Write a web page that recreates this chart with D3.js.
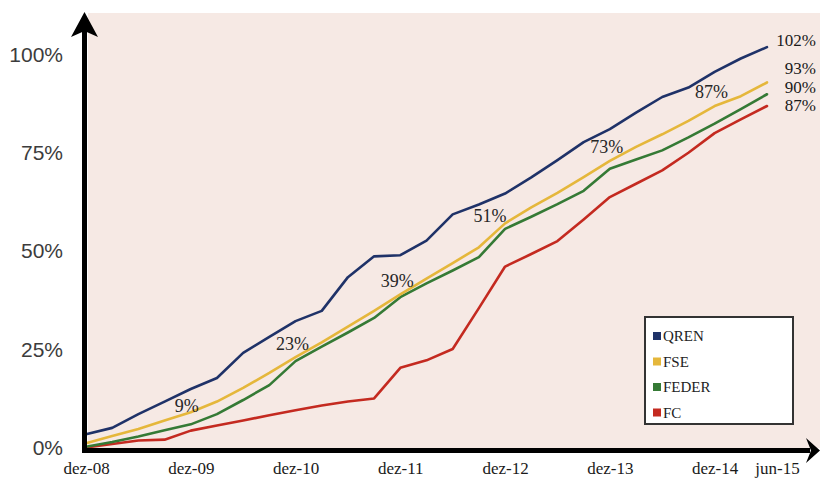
<!DOCTYPE html>
<html>
<head>
<meta charset="utf-8">
<script src="https://cdn.jsdelivr.net/npm/d3@7/dist/d3.min.js"></script>
<style>
  html, body { margin: 0; padding: 0; background: #ffffff; }
  svg { display: block; }
</style>
</head>
<body>
<svg id="chart" width="820" height="479"></svg>
<script>
// Quarterly reporting dates
const quarters = [
  "dez-08", "mar-09", "jun-09", "set-09",
  "dez-09", "mar-10", "jun-10", "set-10",
  "dez-10", "mar-11", "jun-11", "set-11",
  "dez-11", "mar-12", "jun-12", "set-12",
  "dez-12", "mar-13", "jun-13", "set-13",
  "dez-13", "mar-14", "jun-14", "set-14",
  "dez-14", "mar-15", "jun-15"
];

// Execution rate (%) per fund
const qren  = [3.4, 5.0, 8.5, 11.7, 14.9, 17.7, 24.1, 28.2, 32.2, 34.8, 43.4, 48.7, 49.0, 52.7, 59.4, 61.9, 64.7, 68.8, 73.2, 77.8, 81.1, 85.3, 89.3, 91.7, 95.7, 99.1, 102];
const fse   = [1.1, 2.9, 4.7, 6.9, 9, 11.7, 15.2, 19.0, 23, 26.8, 30.8, 34.8, 39, 43.0, 47.0, 51, 57.1, 61.2, 64.9, 68.9, 73, 76.6, 79.8, 83.2, 87, 89.5, 93];
const feder = [0.2, 1.4, 2.8, 4.4, 5.9, 8.5, 12.1, 15.9, 22.0, 25.7, 29.3, 33.0, 38.3, 41.8, 45.1, 48.5, 55.7, 58.8, 62.0, 65.4, 71.0, 73.4, 75.7, 79.0, 82.5, 86.2, 90];
const fc    = [0, 0.9, 1.8, 2.0, 4.3, 5.6, 6.9, 8.2, 9.5, 10.7, 11.7, 12.5, 20.3, 22.2, 25.1, 35.5, 46.1, 49.3, 52.6, 58.1, 63.8, 67.2, 70.6, 75.1, 80.1, 83.6, 87];

const seriesNames = ["QREN", "FSE", "FEDER", "FC"];

// Axis tick labels
const xTickLabels = ["dez-08", "dez-09", "dez-10", "dez-11", "dez-12", "dez-13", "dez-14", "jun-15"];
const yTickValues = [0, 25, 50, 75, 100];

// Milestones written along the FSE line
const markDates  = ["dez-09", "dez-10", "dez-11", "set-12", "dez-13", "dez-14"];
const markValues = [9, 23, 39, 51, 73, 87];

// ---- drawing ----
const colors = { QREN: "#1f3268", FSE: "#e5b73b", FEDER: "#357a35", FC: "#c42a20" };
const valuesByName = { QREN: qren, FSE: fse, FEDER: feder, FC: fc };

const svg = d3.select("#chart");
const serif = "'Liberation Serif', 'Times New Roman', serif";
const sans = "'Liberation Sans', Arial, sans-serif";

const x = d3.scalePoint().domain(quarters).range([86, 767]);
const y = d3.scaleLinear().domain([0, 100]).range([447.5, 55]);

// plot area background
svg.append("rect")
  .attr("x", 88).attr("y", 13)
  .attr("width", 820 - 88).attr("height", 448 - 13)
  .attr("fill", "#f6e9e4");

// series lines
const line = d3.line()
  .x((d, i) => x(quarters[i]))
  .y(d => y(d));

const drawOrder = ["FC", "FEDER", "FSE", "QREN"];
drawOrder.forEach(name => {
  svg.append("path")
    .datum(valuesByName[name])
    .attr("d", line)
    .attr("fill", "none")
    .attr("stroke", colors[name])
    .attr("stroke-width", 2.6)
    .attr("stroke-linejoin", "round")
    .attr("stroke-linecap", "round");
});

// milestone labels, a few nudged to sit clear of the lines
const markNudge = { "dez-09": [-1, 8], "set-12": [14, -18] };
svg.append("g").selectAll("text")
  .data(markDates.map((d, i) => ({ date: d, value: markValues[i] })))
  .join("text")
  .attr("x", d => x(d.date) - 3 + (markNudge[d.date] ? markNudge[d.date][0] : 0))
  .attr("y", d => y(d.value) - 14 + (markNudge[d.date] ? markNudge[d.date][1] : 0))
  .attr("dy", "0.35em")
  .attr("text-anchor", "middle")
  .attr("font-family", serif)
  .attr("font-size", 18)
  .attr("fill", "#262626")
  .text(d => d.value + "%");

// end-of-line values
const endShift = { QREN: -7, FSE: -14, FEDER: -7, FC: -1 };
svg.append("g").selectAll("text")
  .data(seriesNames)
  .join("text")
  .attr("x", 816)
  .attr("y", n => y(valuesByName[n][valuesByName[n].length - 1]) + endShift[n])
  .attr("dy", "0.35em")
  .attr("text-anchor", "end")
  .attr("font-family", serif)
  .attr("font-size", 17)
  .attr("fill", "#1a1a1a")
  .text(n => valuesByName[n][valuesByName[n].length - 1] + "%");

// y axis labels
const yAxis = d3.axisLeft(y)
  .tickValues(yTickValues)
  .tickFormat(d => d + "%")
  .tickSize(0)
  .tickPadding(21.5);
const gy = svg.append("g").attr("transform", "translate(84.5,0)").call(yAxis);
gy.select(".domain").remove();
gy.selectAll("text")
  .attr("font-family", sans)
  .attr("font-size", 21)
  .attr("fill", "#3c3c3c");

// x axis labels
const xAxis = d3.axisBottom(x)
  .tickValues(xTickLabels)
  .tickSize(0)
  .tickPadding(12);
const gx = svg.append("g").attr("transform", "translate(0,450)").call(xAxis);
gx.select(".domain").remove();
gx.selectAll("text")
  .attr("font-family", serif)
  .attr("font-size", 17)
  .attr("fill", "#1a1a1a")
  .attr("dx", d => d === "jun-15" ? 10 : 0);

// thick axis lines with arrow heads
svg.append("line")
  .attr("x1", 84.5).attr("y1", 30).attr("x2", 84.5).attr("y2", 453)
  .attr("stroke", "#000").attr("stroke-width", 5);
svg.append("path")
  .attr("d", "M84.5,12 L98,37 L84.5,31 L71,37 Z")
  .attr("fill", "#000");
svg.append("line")
  .attr("x1", 82).attr("y1", 450.5).attr("x2", 810).attr("y2", 450.5)
  .attr("stroke", "#000").attr("stroke-width", 5);
svg.append("path")
  .attr("d", "M820,450.5 L806,438 L811,450.5 L806,463 Z")
  .attr("fill", "#000");

// legend
const legend = svg.append("g");
legend.append("rect")
  .attr("x", 645).attr("y", 317)
  .attr("width", 148).attr("height", 107)
  .attr("fill", "#ffffff")
  .attr("stroke", "#333")
  .attr("stroke-width", 2);
const items = legend.selectAll("g.item")
  .data(seriesNames)
  .join("g")
  .attr("class", "item")
  .attr("transform", (d, i) => `translate(653,${336 + i * 25.5})`);
items.append("rect")
  .attr("x", 0).attr("y", -4)
  .attr("width", 8).attr("height", 8)
  .attr("fill", d => colors[d]);
items.append("text")
  .attr("x", 10).attr("y", 0)
  .attr("dy", "0.35em")
  .attr("font-family", serif)
  .attr("font-size", 15)
  .attr("fill", "#222")
  .text(d => d);
</script>
</body>
</html>
